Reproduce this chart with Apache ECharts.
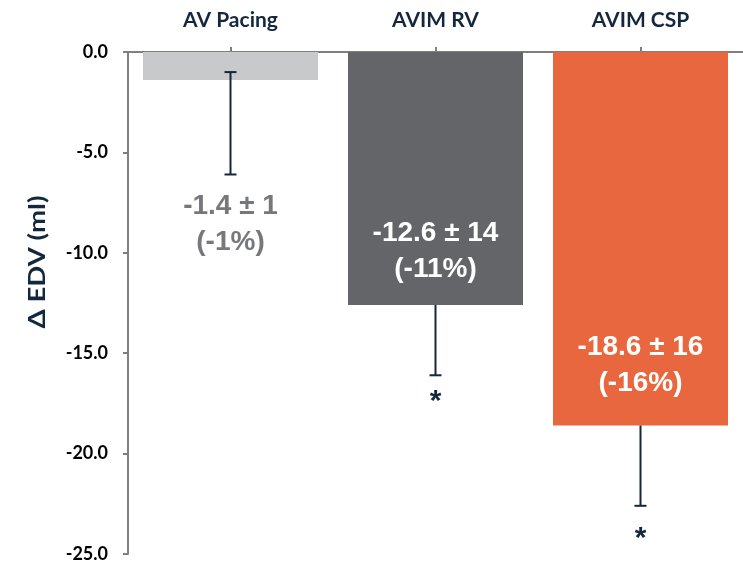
<!DOCTYPE html>
<html>
<head>
<meta charset="utf-8">
<script src="https://cdn.jsdelivr.net/npm/echarts@6/dist/echarts.min.js"></script>
<style>
  html, body { margin: 0; padding: 0; background: #ffffff; }
  #chart { width: 743px; height: 563px; }
</style>
</head>
<body>
<div id="chart"></div>
<script>
// Change in end-diastolic volume by pacing mode
const categories = ['AV Pacing', 'AVIM RV', 'AVIM CSP'];
const meanChange = [-1.4, -12.6, -18.6];
const sdChange = [1, 14, 16];
const pctChange = [-1, -11, -16];
const whiskerTop = [-1.0, -12.6, -18.6];
const whiskerBottom = [-6.1, -16.1, -22.6];
const significance = ['', '*', '*'];
const yTicks = { min: -25, max: 0, interval: 5 };

// Presentation
const NAVY = '#13283c';
const AXIS_GREY = '#7f7f7f';
const barColors = ['#c8c9cb', '#646569', '#e8673f'];
const labelColors = ['#77787b', '#ffffff', '#ffffff'];
const labelAnchor = [-8.6, -9.9, -15.6];   // centre of the two-line value label, in axis units
const markAnchor = [null, -17.1, -23.95];  // centre of the significance mark, in axis units

const chart = echarts.init(document.getElementById('chart'), null, { renderer: 'canvas' });

chart.setOption({
  animation: false,
  grid: { left: 128, right: -3, top: 52, bottom: 8, containLabel: false },
  xAxis: {
    type: 'category',
    position: 'top',
    data: categories,
    axisLine: { show: true, lineStyle: { color: AXIS_GREY, width: 2 } },
    axisTick: { show: true, alignWithLabel: true, length: 5, lineStyle: { color: AXIS_GREY, width: 2 } },
    axisLabel: { color: NAVY, fontFamily: 'Lato', fontWeight: 'bold', fontSize: 21, margin: 21 },
    splitLine: { show: false }
  },
  yAxis: {
    type: 'value',
    min: yTicks.min,
    max: yTicks.max,
    interval: yTicks.interval,
    axisLine: { show: true, lineStyle: { color: AXIS_GREY, width: 2 } },
    axisTick: { show: true, length: 5, lineStyle: { color: AXIS_GREY, width: 2 } },
    axisLabel: {
      color: '#000000', fontFamily: 'Lato', fontWeight: 'bold', fontSize: 18, margin: 20,
      formatter: v => v.toFixed(1)
    },
    splitLine: { show: false }
  },
  graphic: [{
    type: 'text',
    x: 38, y: 262,
    rotation: Math.PI / 2,
    scaleX: 1.2,
    style: {
      text: 'Δ EDV (ml)',
      fill: NAVY,
      font: 'bold 23px Lato',
      textAlign: 'center',
      textVerticalAlign: 'middle'
    }
  }],
  series: [
    {
      type: 'bar',
      data: meanChange.map((v, i) => ({ value: v, itemStyle: { color: barColors[i] } })),
      barWidth: 175,
      z: 2
    },
    {
      // whiskers; a cap is drawn at the top only where the whisker starts away from the bar end
      type: 'custom',
      z: 3,
      data: categories.map((c, i) => [i, whiskerTop[i], whiskerBottom[i], meanChange[i]]),
      renderItem: (params, api) => {
        const i = api.value(0);
        const top = api.coord([i, api.value(1)]);
        const bot = api.coord([i, api.value(2)]);
        const half = 6;
        const line = { stroke: NAVY, lineWidth: 2 };
        const children = [
          { type: 'line', shape: { x1: top[0], y1: top[1], x2: bot[0], y2: bot[1] }, style: line },
          { type: 'line', shape: { x1: bot[0] - half, y1: bot[1], x2: bot[0] + half, y2: bot[1] }, style: line }
        ];
        if (api.value(1) !== api.value(3)) {
          children.push({ type: 'line', shape: { x1: top[0] - half, y1: top[1], x2: top[0] + half, y2: top[1] }, style: line });
        }
        if (significance[i]) {
          const m = api.coord([i, markAnchor[i]]);
          children.push({
            type: 'text',
            style: {
              x: m[0], y: m[1] - 9, text: significance[i], fill: NAVY,
              font: 'bold 30px "Liberation Sans"', textAlign: 'center', textVerticalAlign: 'top'
            }
          });
        }
        return { type: 'group', children };
      }
    },
    {
      // two-line value labels: mean ± SD and percent change
      type: 'custom',
      z: 4,
      data: categories.map((c, i) => [i, labelAnchor[i]]),
      renderItem: (params, api) => {
        const i = api.value(0);
        const p = api.coord([i, api.value(1)]);
        const font = 'bold 28px "Liberation Sans"';
        return {
          type: 'group',
          children: [
            { type: 'text', style: { x: p[0], y: p[1] - 18, text: meanChange[i] + ' ± ' + sdChange[i], fill: labelColors[i], font, textAlign: 'center', textVerticalAlign: 'middle' } },
            { type: 'text', style: { x: p[0], y: p[1] + 18, text: '(' + pctChange[i] + '%)', fill: labelColors[i], font, textAlign: 'center', textVerticalAlign: 'middle' } }
          ]
        };
      }
    }
  ]
});
</script>
</body>
</html>
